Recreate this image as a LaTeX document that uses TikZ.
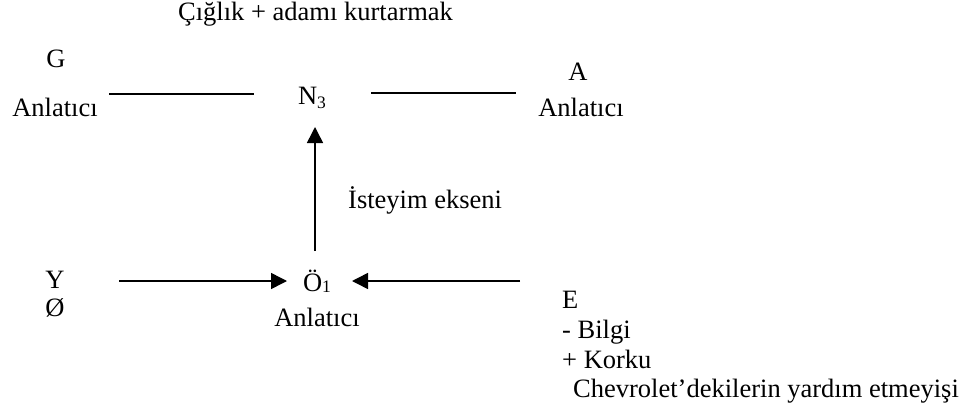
\documentclass[tikz,border=0pt]{standalone}
\usepackage{fontspec}
\setmainfont{Liberation Serif}
\usetikzlibrary{arrows.meta}
\newcommand{\mysub}[2]{\raisebox{-#1pt}{\fontsize{17.5}{18}\selectfont #2}}
\begin{document}
\begin{tikzpicture}[x=1pt,y=-1pt,
  lbl/.style={inner sep=0pt,font=\fontsize{26.5}{31}\selectfont},
  con/.style={line width=1.5pt},
  arr/.style={con,-{Triangle[length=16pt,width=16pt]}}]
\useasboundingbox (0,0) rectangle (973,412);
\node[lbl,anchor=base west] (title) at (178,21) {Çığlık + adamı kurtarmak};
\node[lbl,anchor=base] (G) at (56,67.5) {G};
\node[lbl,anchor=base] (anlG) at (55,116) {Anlatıcı};
\node[lbl,anchor=base] (N3) at (312,104) {N\mysub{4}{3}};
\node[lbl,anchor=base] (A) at (578,80) {A};
\node[lbl,anchor=base] (anlA) at (581,116) {Anlatıcı};
\node[lbl,anchor=base west] (ist) at (348,208) {İsteyim ekseni};
\node[lbl,anchor=base] (Y) at (55,288) {Y};
\node[lbl,anchor=base] (empty) at (55,316.5) {Ø};
\node[lbl,anchor=base] (O1) at (317,291) {Ö\mysub{1.5}{1}};
\node[lbl,anchor=base] (anlO) at (317,326.5) {Anlatıcı};
\node[lbl,anchor=base west] (E) at (562,308) {E};
\node[lbl,anchor=base west] (bilgi) at (562,338) {- Bilgi};
\node[lbl,anchor=base west] (korku) at (562,368) {+ Korku};
\node[lbl,anchor=base west] (chev) at (573,397) {Chevrolet’dekilerin yardım etmeyişi};
% connector ends
\coordinate (gl1) at (109,94);
\coordinate (gl2) at (254,94);
\coordinate (al1) at (371,93);
\coordinate (al2) at (516,93);
\coordinate (vb) at (315,251);
\coordinate (vt) at (315,127);
\coordinate (yl) at (119,281);
\coordinate (yt) at (287,281);
\coordinate (el) at (520,281);
\coordinate (et) at (352,281);
\draw[con] (gl1) -- (gl2);
\draw[con] (al1) -- (al2);
\draw[arr] (vb) -- (vt);
\draw[arr] (yl) -- (yt);
\draw[arr] (el) -- (et);
\end{tikzpicture}
\end{document}
